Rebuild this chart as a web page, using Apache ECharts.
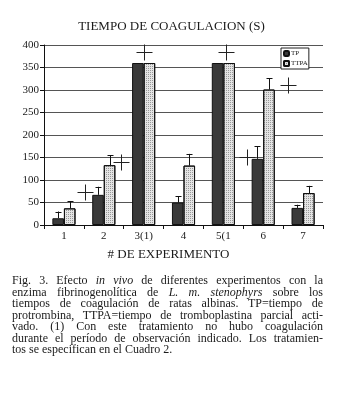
<!DOCTYPE html>
<html>
<head>
<meta charset="utf-8">
<script src="https://cdn.jsdelivr.net/npm/echarts@6/dist/echarts.min.js"></script>
<style>
html,body{margin:0;padding:0;background:#fff;}
#wrap{position:relative;width:343px;height:406px;}
#chart{position:absolute;left:0;top:0;width:343px;height:406px;}
#caption{position:absolute;left:12px;top:275px;width:311px;font-family:"Liberation Serif",serif;font-size:12px;line-height:11.5px;color:#1a1a1a;}
#caption div{text-align:justify;text-align-last:justify;white-space:nowrap;}
#caption div.last{text-align:left;text-align-last:left;}
</style>
</head>
<body>
<div id="wrap">
<div id="chart"></div>
<div id="caption">
<div>Fig. 3. Efecto <i>in vivo</i> de diferentes experimentos con la</div>
<div>enzima fibrinogenolítica de <i>L. m. stenophyrs</i> sobre los</div>
<div>tiempos de coagulación de ratas albinas. TP=tiempo de</div>
<div>protrombina, TTPA=tiempo de tromboplastina parcial acti-</div>
<div>vado. (1) Con este tratamiento no hubo coagulación</div>
<div>durante el período de observación indicado. Los tratamien-</div>
<div class="last">tos se especifican en el Cuadro 2.</div>
</div>
</div>
<script>
const categories = ['1', '2', '3(1)', '4', '5(1', '6', '7'];
const tpValues = [15, 67, 360, 50, 360, 147, 38];
const ttpaValues = [37, 133, 360, 132, 360, 301, 71];
const tpErrTop = [30, 85, null, 64, null, 175, 45];
const ttpaErrTop = [53, 155, null, 158, null, 326, 87];
const plusX = [1.03, 1.92, 2.5, 4.56, 5.09, 6.12];
const plusY = [73, 139, 385, 385, 151, 311];
const yMin = 0, yMax = 400, yStep = 50;

const FONT = '"Liberation Serif", serif';
const BW = 0.29;

function errData(vals, tops) {
  const out = [];
  vals.forEach((v, i) => { if (tops[i] != null) out.push([i, v, tops[i]]); });
  return out;
}
function errRender(sign) {
  return function (params, api) {
    const i = api.value(0);
    const lo = api.coord([i, api.value(1)]);
    const hi = api.coord([i, api.value(2)]);
    const bw = api.size([1, 0])[0] * BW;
    const cx = Math.round(lo[0] + sign * bw / 2) + 0.5;
    const st = { stroke: '#111', lineWidth: 1 };
    return {
      type: 'group',
      children: [
        { type: 'line', shape: { x1: cx, y1: lo[1], x2: cx, y2: hi[1] }, style: st },
        { type: 'line', shape: { x1: cx - 3, y1: Math.round(hi[1]) + 0.5, x2: cx + 3, y2: Math.round(hi[1]) + 0.5 }, style: st }
      ]
    };
  };
}

const chart = echarts.init(document.getElementById('chart'), null, { renderer: 'canvas' });
chart.setOption({
  backgroundColor: '#fff',
  animation: false,
  title: {
    text: 'TIEMPO DE COAGULACION (S)',
    left: 'center', top: 15,
    textStyle: { fontFamily: FONT, fontSize: 13, fontWeight: 'normal', color: '#1a1a1a' }
  },
  legend: {
    data: ['TP', 'TTPA'],
    orient: 'vertical',
    left: 281, top: 48,
    itemWidth: 5, itemHeight: 5, itemGap: 3,
    padding: [2, 1, 2, 2],
    borderColor: '#222', borderWidth: 1,
    backgroundColor: '#fff',
    textStyle: { fontFamily: FONT, fontSize: 7, color: '#222', padding: [0, 0, 0, -3] }
  },
  grid: { left: 44, right: 20, top: 45, bottom: 181, containLabel: false },
  xAxis: [{
    type: 'category',
    data: categories,
    axisLine: { lineStyle: { color: '#111', width: 1 } },
    axisTick: { show: true, length: 4, lineStyle: { color: '#111' } },
    axisLabel: { fontFamily: FONT, fontSize: 11, color: '#1a1a1a', margin: 6 },
    name: '# DE EXPERIMENTO',
    nameLocation: 'middle',
    nameGap: 23,
    nameTextStyle: { fontFamily: FONT, fontSize: 13, color: '#1a1a1a', padding: [0, 30, 0, 0] }
  }, {
    type: 'value', min: 0, max: categories.length, show: false
  }],
  yAxis: {
    type: 'value', min: yMin, max: yMax, interval: yStep,
    axisLine: { show: true, lineStyle: { color: '#111' } },
    axisTick: { show: true, length: 4, lineStyle: { color: '#111' } },
    axisLabel: { fontFamily: FONT, fontSize: 11, color: '#1a1a1a', margin: 5 },
    splitLine: { lineStyle: { color: '#555', width: 1 } }
  },
  series: [
    {
      name: 'TP', type: 'bar', data: tpValues,
      barWidth: (BW * 100) + '%', barGap: '0%',
      itemStyle: { color: '#3a3a3a', borderColor: '#111', borderWidth: 1 }
    },
    {
      name: 'TTPA', type: 'bar', data: ttpaValues,
      barWidth: (BW * 100) + '%', barGap: '0%',
      itemStyle: {
        color: '#e4e4e4', borderColor: '#111', borderWidth: 1,
        decal: { symbol: 'rect', symbolSize: 1, dashArrayX: [1, 1], dashArrayY: [1, 1], color: 'rgba(60,60,60,0.45)', rotation: 0 }
      }
    },
    {
      type: 'custom', renderItem: errRender(-1), data: errData(tpValues, tpErrTop),
      encode: { x: 0, y: [1, 2] }, z: 5, silent: true
    },
    {
      type: 'custom', renderItem: errRender(1), data: errData(ttpaValues, ttpaErrTop),
      encode: { x: 0, y: [1, 2] }, z: 5, silent: true
    },
    {
      type: 'custom', xAxisIndex: 1, z: 6, silent: true,
      data: plusX.map((x, i) => [x, plusY[i]]),
      encode: { x: 0, y: 1 },
      renderItem: function (params, api) {
        const p = api.coord([api.value(0), api.value(1)]);
        const cx = Math.round(p[0]) + 0.5, cy = Math.round(p[1]) + 0.5;
        const h = 8;
        const st = { stroke: '#222', lineWidth: 1 };
        return {
          type: 'group',
          children: [
            { type: 'line', shape: { x1: cx - h, y1: cy, x2: cx + h, y2: cy }, style: st },
            { type: 'line', shape: { x1: cx, y1: cy - h, x2: cx, y2: cy + h }, style: st }
          ]
        };
      }
    }
  ]
});
</script>
</body>
</html>
